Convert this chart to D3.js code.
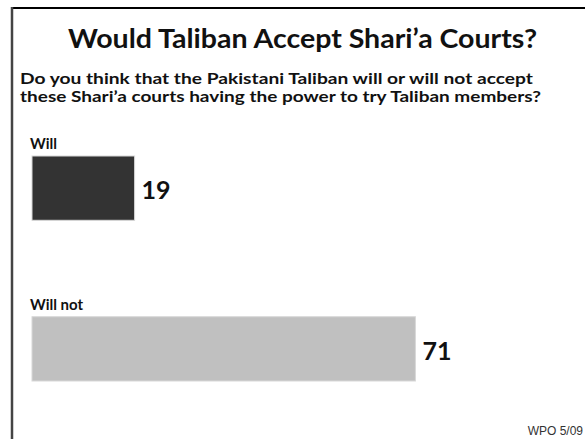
<!DOCTYPE html>
<head>
  <meta charset="utf-8">
  <style>
    body { margin: 0; background: #fff; }
    svg text { font-family: Lato, "Liberation Sans", sans-serif; fill: #111; }
    svg .title { font-size: 27px; font-weight: bold; }
    svg .sub { font-size: 15px; font-weight: bold; }
    svg .cat { font-size: 15px; font-weight: bold; }
    svg .val { font-size: 25px; font-weight: bold; }
    svg .src { font-size: 12px; fill: #333; font-family: "Liberation Sans", sans-serif; }
  </style>
</head>
<body>
<script src="https://cdn.jsdelivr.net/npm/d3@7"></script>
<script>
  // data
  var categories = ["Will", "Will not"];
  var values = [19, 71];
  var barColors = ["#333333", "#c0c0c0"];
  var titleText = "Would Taliban Accept Shari\u2019a Courts?";
  var subLines = [
    "Do you think that the Pakistani Taliban will or will not accept",
    "these Shari\u2019a courts having the power to try Taliban members?"
  ];
  var sourceText = "WPO 5/09";

  var width = 585, height = 439;

  var svg = d3.select("body")
    .append("svg")
      .attr("width", width)
      .attr("height", height);

  // frame: top and left rules
  svg.append("line")
      .attr("x1", 11).attr("y1", 8).attr("x2", width).attr("y2", 8)
      .style("stroke", "#000").style("stroke-width", 2);
  svg.append("line")
      .attr("x1", 12).attr("y1", 7).attr("x2", 12).attr("y2", height)
      .style("stroke", "#444").style("stroke-width", 2.5);

  // title and question
  svg.append("text")
      .classed("title", true)
      .attr("x", 68).attr("y", 48)
      .attr("textLength", 469)
      .attr("lengthAdjust", "spacingAndGlyphs")
      .text(titleText);

  var subWidths = [513, 521];
  svg.selectAll("text.sub")
    .data(subLines)
    .enter().append("text")
      .classed("sub", true)
      .attr("x", 20)
      .attr("y", function (d, i) { return 84 + i * 18; })
      .attr("textLength", function (d, i) { return subWidths[i]; })
      .attr("lengthAdjust", "spacingAndGlyphs")
      .text(function (d) { return d; });

  // scales
  var xScale = d3.scaleLinear().domain([0, 100]).range([32, 572]);
  var yScale = d3.scaleBand().domain(categories).range([156, 381]).paddingInner(0.6);

  var rows = categories.map(function (c, i) { return { cat: c, value: values[i], color: barColors[i] }; });

  svg.selectAll("rect.bar")
    .data(rows)
    .enter().append("rect")
      .classed("bar", true)
      .attr("x", xScale(0))
      .attr("y", function (d) { return yScale(d.cat); })
      .attr("width", function (d) { return xScale(d.value) - xScale(0); })
      .attr("height", yScale.bandwidth())
      .style("fill", function (d) { return d.color; })
      .style("stroke", "#d8d8d8")
      .style("stroke-width", 1);

  // category labels above bars
  svg.selectAll("text.cat")
    .data(rows)
    .enter().append("text")
      .classed("cat", true)
      .attr("x", 30)
      .attr("y", function (d) { return yScale(d.cat) - 7; })
      .text(function (d) { return d.cat; });

  // value labels
  svg.selectAll("text.val")
    .data(rows)
    .enter().append("text")
      .classed("val", true)
      .attr("x", function (d) { return xScale(d.value) + 7; })
      .attr("y", function (d) { return yScale(d.cat) + yScale.bandwidth() / 2 + 11; })
      .text(function (d) { return d.value; });

  // source
  svg.append("text")
      .classed("src", true)
      .attr("x", 583).attr("y", 435)
      .style("text-anchor", "end")
      .text(sourceText);
</script>
</body>
</html>
